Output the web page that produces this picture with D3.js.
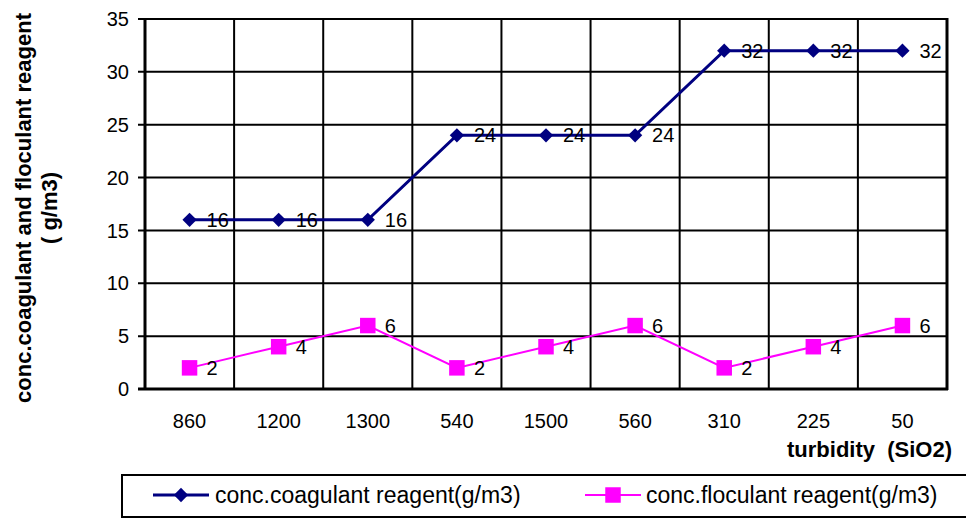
<!DOCTYPE html>
<html><head><meta charset="utf-8">
<script src="https://cdn.jsdelivr.net/npm/d3@7"></script>
<style>body{margin:0;background:#fff}svg{display:block;font-family:"Liberation Sans",Arial,sans-serif}</style>
</head><body><svg id="c" width="966" height="519"></svg>
<script>
const categories = ["860","1200","1300","540","1500","560","310","225","50"];
const coagulant = [16,16,16,24,24,24,32,32,32];
const floculant = [2,4,6,2,4,6,2,4,6];
const yTicks = [0,5,10,15,20,25,30,35];
const seriesNames = ["conc.coagulant reagent(g/m3)","conc.floculant reagent(g/m3)"];

const svg = d3.select("#c");
const L=145,R=947,T=19,B=389;
const x = d3.scaleBand().domain(categories).range([L,R]);
const y = d3.scaleLinear().domain([0,35]).range([B,T]);

// grid
svg.append("g").selectAll("line").data(yTicks).join("line")
 .attr("x1",L-7).attr("x2",R).attr("y1",d=>y(d)).attr("y2",d=>y(d))
 .attr("stroke","#000").attr("stroke-width",2);
svg.append("g").selectAll("line").data(categories.slice(1)).join("line")
 .attr("x1",d=>x(d)).attr("x2",d=>x(d)).attr("y1",T).attr("y2",B)
 .attr("stroke","#000").attr("stroke-width",2);
svg.append("line").attr("x1",R).attr("x2",R).attr("y1",T-1).attr("y2",B+1).attr("stroke","#000").attr("stroke-width",3);
svg.append("line").attr("x1",L).attr("x2",L).attr("y1",T-1).attr("y2",B+1).attr("stroke","#000").attr("stroke-width",3);
svg.append("line").attr("x1",L-7).attr("x2",R+1).attr("y1",B).attr("y2",B).attr("stroke","#000").attr("stroke-width",3);

// y tick labels
svg.append("g").selectAll("text").data(yTicks).join("text")
 .attr("x",L-16).attr("y",d=>y(d)).attr("dy","0.36em").attr("text-anchor","end")
 .attr("font-size",20).text(d=>d);
// x labels
svg.append("g").selectAll("text").data(categories).join("text")
 .attr("x",d=>x(d)+x.bandwidth()/2).attr("y",428).attr("text-anchor","middle")
 .attr("font-size",20).text(d=>d);
svg.append("text").attr("x",952).attr("y",457).attr("text-anchor","end")
 .attr("font-size",22).attr("font-weight","bold").attr("xml:space","preserve").text("turbidity  (SiO2)");
// y title
const yt = svg.append("text").attr("transform","translate(0,208) rotate(-90)")
 .attr("text-anchor","middle").attr("font-size",22).attr("font-weight","bold");
yt.append("tspan").attr("x",0).attr("y",31).text("conc.coagulant and floculant reagent");
yt.append("tspan").attr("x",0).attr("y",57).text("( g/m3)");

const cx = d=>x(d)+x.bandwidth()/2;
const line = d3.line().x(d=>cx(d.c)).y(d=>y(d.v));
const s1 = categories.map((c,i)=>({c,v:coagulant[i]}));
const s2 = categories.map((c,i)=>({c,v:floculant[i]}));
const diamond = d3.symbol().type(d3.symbolDiamond2).size(130);
const square = d3.symbol().type(d3.symbolSquare).size(240);

svg.append("path").datum(s1).attr("d",line).attr("fill","none").attr("stroke","#000080").attr("stroke-width",3);
svg.append("g").selectAll("path").data(s1).join("path")
 .attr("transform",d=>`translate(${cx(d.c)},${y(d.v)})`).attr("d",diamond).attr("fill","#000080");
svg.append("path").datum(s2).attr("d",line).attr("fill","none").attr("stroke","#FF00FF").attr("stroke-width",2);
svg.append("g").selectAll("path").data(s2).join("path")
 .attr("transform",d=>`translate(${cx(d.c)},${y(d.v)})`).attr("d",square).attr("fill","#FF00FF");

// data labels
[s1,s2].forEach(s=>{
 svg.append("g").selectAll("text").data(s).join("text")
  .attr("x",d=>cx(d.c)+17).attr("y",d=>y(d.v)).attr("dy","0.36em")
  .attr("font-size",20).text(d=>d.v);
});

// legend
svg.append("rect").attr("x",122).attr("y",475).attr("width",850).attr("height",42)
 .attr("fill","#fff").attr("stroke","#000").attr("stroke-width",2);
const ly=495;
const leg=[{x1:153,x2:209,tx:215,col:"#000080",sym:diamond,sw:3},{x1:585,x2:641,tx:646,col:"#FF00FF",sym:square,sw:2}];
leg.forEach((l,i)=>{
 svg.append("line").attr("x1",l.x1).attr("x2",l.x2).attr("y1",ly).attr("y2",ly).attr("stroke",l.col).attr("stroke-width",l.sw);
 svg.append("path").attr("transform",`translate(${(l.x1+l.x2)/2},${ly})`).attr("d",l.sym).attr("fill",l.col);
 svg.append("text").attr("x",l.tx).attr("y",ly).attr("dy","0.36em").attr("font-size",23).text(seriesNames[i]);
});
</script></body></html>
